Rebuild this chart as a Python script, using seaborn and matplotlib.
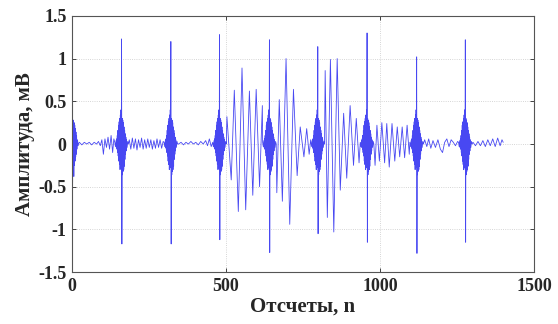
import matplotlib
matplotlib.use("Agg")
import matplotlib.pyplot as plt
import seaborn as sns
import numpy as np
import pandas as pd

# first (partial) beat at the very start of the record
beat0_n = [0, 1, 2, 3, 4, 5, 6, 7, 8, 9, 10, 11, 12, 13, 14, 15, 16, 18, 20, 22]
beat0_v = [0.3, 1.25, -0.45, 0.25, -0.3, 0.28, -0.38, 0.25, -0.25, 0.22, -0.2, 0.18,
           -0.15, 0.14, -0.12, 0.1, -0.06, 0.05, -0.02, 0.01]

# spike positions and their top / bottom values
beat_n = [161, 321, 479, 641, 798, 958, 1119, 1277]
beat_top = [1.23, 1.2, 1.28, 1.22, 1.14, 1.3, 1.02, 1.22]
beat_bot = [-1.17, -1.17, -1.12, -1.27, -1.05, -1.15, -1.28, -1.15]

# shape of the dense burst around each spike (offset from spike, value)
burst_rel = [-22, -20, -18, -17, -16, -15, -14, -13, -12, -11, -10, -9, -8, -7, -6, -5,
             -4, -3, -2, -1, 0, 1, 2, 3, 4, 5, 6, 7, 8, 9, 10, 11, 12, 13, 14, 15, 16,
             18, 20, 22]
burst_val = [0.02, -0.03, 0.04, -0.04, 0.06, -0.06, 0.1, -0.1, 0.16, -0.14, 0.22, -0.2,
             0.26, -0.24, 0.3, -0.3, 0.34, -0.28, 0.4, -0.2, None, None, 0.3, -0.36,
             0.28, -0.32, 0.25, -0.3, 0.2, -0.26, 0.16, -0.18, 0.12, -0.12, 0.08, -0.08,
             0.05, -0.04, 0.03, 0.0]

# waveform between the spikes
seg1_n = [24, 32, 40, 48, 56, 64, 72, 80, 86, 92, 97, 102, 107, 112, 117, 122, 127, 132, 136]
seg1_v = [0.02, -0.01, 0.02, 0.0, 0.02, -0.01, 0.02, 0.0, 0.03, -0.02, 0.05, -0.12, 0.06,
          -0.04, 0.08, -0.06, 0.1, -0.1, 0.06]
seg2_n = [186, 191, 196, 201, 206, 211, 216, 221, 226, 231, 236, 241, 246, 251, 256, 261,
          266, 271, 276, 281, 286, 291, 296]
seg2_v = [0.05, -0.06, 0.07, -0.05, 0.06, -0.07, 0.05, -0.04, 0.07, -0.06, 0.05, -0.05,
          0.06, -0.04, 0.05, -0.06, 0.04, -0.05, 0.06, -0.04, 0.05, -0.05, 0.03]
seg3_n = [346, 354, 362, 370, 378, 386, 394, 402, 410, 418, 426, 434, 440, 446, 452]
seg3_v = [0.0, 0.02, -0.01, 0.02, 0.0, 0.03, 0.0, 0.02, -0.01, 0.03, 0.0, 0.04, -0.02, 0.06, -0.03]
seg4_n = [503, 517, 527, 540, 552, 564, 576, 587, 598, 609, 618]
seg4_v = [0.32, -0.42, 0.63, -0.79, 0.89, -0.77, 0.62, -0.6, 0.64, -0.5, 0.45]
seg5_n = [665, 673, 683, 695, 707, 719, 731, 741, 753, 762, 770, 775]
seg5_v = [-0.57, 0.52, -0.67, 1.0, -0.94, 0.64, -0.37, 0.2, -0.15, 0.18, -0.12, 0.05]
seg6_n = [822, 829, 839, 850, 861, 871, 882, 892, 903, 914, 923, 932]
seg6_v = [0.86, -0.86, 0.99, -1.03, 1.0, -0.54, 0.36, -0.4, 0.45, -0.25, 0.3, -0.22]
seg7_n = [984, 990, 998, 1006, 1015, 1022, 1030, 1039, 1048, 1056, 1064, 1072, 1080, 1088, 1095]
seg7_v = [-0.25, 0.22, -0.2, 0.25, -0.22, 0.24, -0.27, 0.24, -0.2, 0.2, -0.15, 0.2, -0.16,
          0.22, -0.12]
seg8_n = [1145, 1152, 1158, 1165, 1172, 1180, 1188, 1196, 1203, 1210, 1217, 1224, 1231,
          1238, 1245, 1252]
seg8_v = [0.05, -0.03, 0.06, -0.05, 0.04, -0.04, 0.05, -0.06, -0.1, 0.02, 0.06, -0.03,
          0.05, 0.02, -0.02, 0.03]
seg9_n = [1302, 1310, 1318, 1326, 1334, 1342, 1350, 1358, 1366, 1374, 1382, 1390, 1396, 1400]
seg9_v = [0.02, -0.02, 0.03, -0.02, 0.04, -0.03, 0.05, -0.02, 0.06, -0.03, 0.07, -0.02,
          0.05, 0.02]

segments = [(seg1_n, seg1_v), (seg2_n, seg2_v), (seg3_n, seg3_v), (seg4_n, seg4_v),
            (seg5_n, seg5_v), (seg6_n, seg6_v), (seg7_n, seg7_v), (seg8_n, seg8_v),
            (seg9_n, seg9_v)]

# assemble the record: beat0, then segment, beat, segment, beat ...
n_all = list(beat0_n)
v_all = list(beat0_v)
for i, (sn, sv) in enumerate(segments):
    n_all += sn
    v_all += sv
    if i < len(beat_n):
        for r, b in zip(burst_rel, burst_val):
            n_all.append(beat_n[i] + r)
            if r == 0:
                v_all.append(beat_top[i])
            elif r == 1:
                v_all.append(beat_bot[i])
            else:
                v_all.append(b)

df = pd.DataFrame({"n": n_all, "amp": v_all})

sns.set_style("ticks")
plt.rcParams["font.family"] = ["Liberation Serif", "DejaVu Serif"]
plt.rcParams["font.weight"] = "bold"

fig = plt.figure(figsize=(5.58, 3.24), dpi=100)
ax = fig.add_axes([0.129, 0.160, 0.828, 0.791])

sns.lineplot(data=df, x="n", y="amp", sort=False, estimator=None, color="#4848f2",
             linewidth=0.6, ax=ax)

ax.set_xlim(0, 1500)
ax.set_ylim(-1.5, 1.5)
ax.set_xticks([0, 500, 1000, 1500])
ax.set_xticklabels(["0", "500", "1000", "1500"], fontsize=13, fontweight="bold")
ax.set_yticks([-1.5, -1, -0.5, 0, 0.5, 1, 1.5])
ax.set_yticklabels(["-1.5", "-1", "-0.5", "0", "0.5", "1", "1.5"], fontsize=13,
                   fontweight="bold")
ax.tick_params(direction="in", top=True, right=True, length=3, width=0.6, pad=4)
ax.grid(True, linestyle=":", color="#c8c8c8", linewidth=0.6)
for s in ax.spines.values():
    s.set_linewidth(0.8)
    s.set_color("#555555")

ax.set_xlabel("Отсчеты, n", fontsize=15, fontweight="bold", labelpad=1)
ax.set_ylabel("Амплитуда, мВ", fontsize=15, fontweight="bold", labelpad=2)

fig.savefig("out.png", dpi=100)
